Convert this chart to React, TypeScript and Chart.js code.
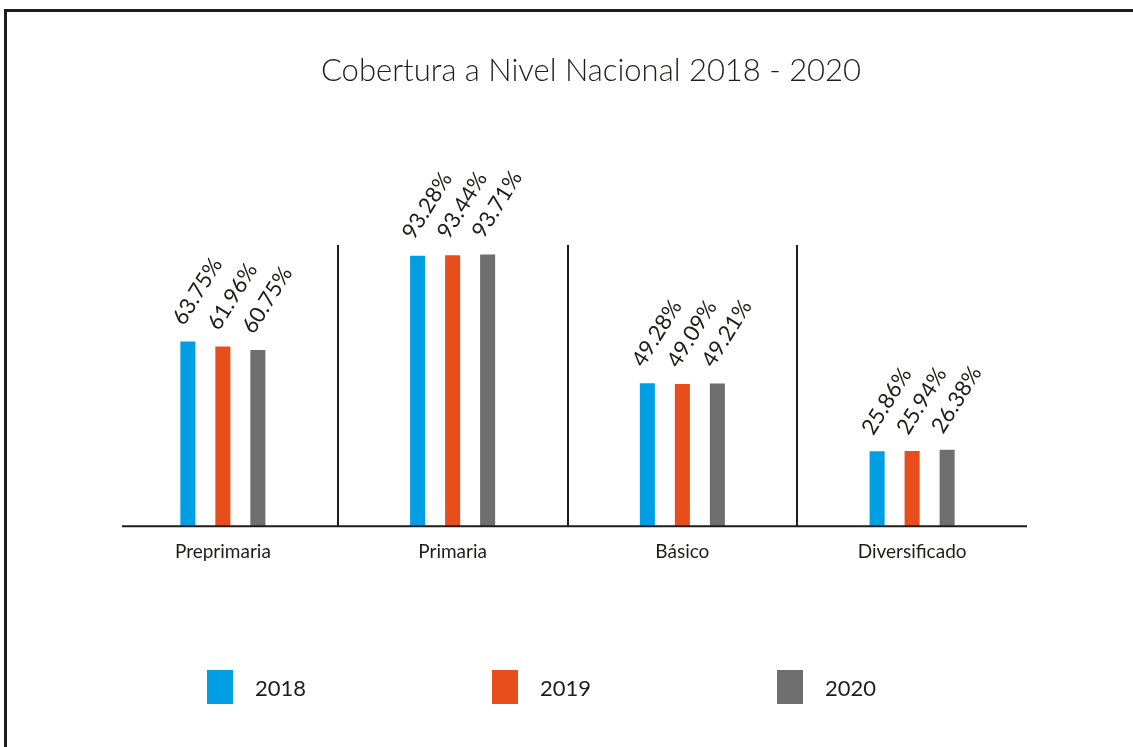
import React, { useEffect, useRef } from 'react';
import { Chart, registerables } from 'chart.js';

Chart.register(...registerables);

const categories = ['Preprimaria', 'Primaria', 'Básico', 'Diversificado'];
const seriesLabels = ['2018', '2019', '2020'];
const values2018 = [63.75, 93.28, 49.28, 25.86];
const values2019 = [61.96, 93.44, 49.09, 25.94];
const values2020 = [60.75, 93.71, 49.21, 26.38];
const seriesColors = ['#009FE3', '#E84E1B', '#706F6F'];
const titleText = 'Cobertura a Nivel Nacional 2018 - 2020';

const FONT = 'Lato, "Noto Sans", sans-serif';
const TEXT = '#1d1d1b';

const titlePlugin = {
  id: 'customTitle',
  afterDraw(chart: any) {
    const ctx = chart.ctx;
    ctx.save();
    ctx.font = `300 31px ${FONT}`;
    ctx.fillStyle = TEXT;
    ctx.textAlign = 'center';
    ctx.textBaseline = 'alphabetic';
    ctx.fillText(titleText, 591, 81);
    ctx.restore();
  },
};

const baselinePlugin = {
  id: 'baseline',
  afterDatasetsDraw(chart: any) {
    const { ctx, chartArea } = chart;
    ctx.save();
    ctx.strokeStyle = TEXT;
    ctx.lineWidth = 2;
    ctx.beginPath();
    ctx.moveTo(chartArea.left + 14, chartArea.bottom);
    ctx.lineTo(chartArea.right, chartArea.bottom);
    ctx.stroke();
    ctx.restore();
  },
};

const valueLabelPlugin = {
  id: 'valueLabels',
  afterDatasetsDraw(chart: any) {
    const ctx = chart.ctx;
    chart.data.datasets.forEach((ds: any, i: number) => {
      const meta = chart.getDatasetMeta(i);
      meta.data.forEach((bar: any, j: number) => {
        const v = ds.data[j];
        ctx.save();
        ctx.translate(bar.x - 4, bar.y - 15);
        ctx.rotate((-58 * Math.PI) / 180);
        ctx.font = `22px ${FONT}`;
        ctx.fillStyle = TEXT;
        ctx.textAlign = 'left';
        ctx.textBaseline = 'alphabetic';
        ctx.fillText(v.toFixed(2) + '%', 0, 0);
        ctx.restore();
      });
    });
  },
};

const legendPlugin = {
  id: 'customLegend',
  afterDraw(chart: any) {
    const ctx = chart.ctx;
    const left = 207;
    const step = 285;
    const top = 670;
    chart.data.datasets.forEach((ds: any, i: number) => {
      const x = left + i * step;
      ctx.save();
      ctx.fillStyle = ds.backgroundColor;
      ctx.fillRect(x, top, 26, 34);
      ctx.font = `22px ${FONT}`;
      ctx.fillStyle = TEXT;
      ctx.textAlign = 'left';
      ctx.textBaseline = 'alphabetic';
      ctx.fillText(ds.label, x + 48, top + 26);
      ctx.restore();
    });
  },
};

export default function App() {
  const ref = useRef<HTMLCanvasElement>(null);

  useEffect(() => {
    if (!ref.current) return;
    const datasets = [values2018, values2019, values2020].map((vals, i) => ({
      label: seriesLabels[i],
      data: vals,
      backgroundColor: seriesColors[i],
      borderWidth: 0,
      categoryPercentage: 0.457,
      barPercentage: 0.43,
    }));
    const chart = new Chart(ref.current, {
      type: 'bar',
      data: { labels: categories, datasets },
      options: {
        animation: false,
        responsive: false,
        devicePixelRatio: 1,
        layout: { padding: { left: 108, right: 106, top: 245, bottom: 170 } },
        plugins: {
          legend: { display: false },
          tooltip: { enabled: false },
          title: { display: false },
        },
        scales: {
          x: {
            offset: true,
            grid: {
              offset: true,
              drawTicks: false,
              lineWidth: 2,
              color: (c: any) => (c.index >= 1 && c.index <= 3 ? TEXT : 'rgba(0,0,0,0)'),
            },
            border: { display: false },
            ticks: { color: TEXT, padding: 14, font: { family: FONT, size: 19 } },
          },
          y: {
            display: false,
            min: 0,
            max: 97,
          },
        },
      },
      plugins: [baselinePlugin, valueLabelPlugin, legendPlugin, titlePlugin],
    });
    return () => chart.destroy();
  }, []);

  return (
    <div style={{ position: 'fixed', left: 0, top: 0, width: 1133, height: 747, overflow: 'hidden', background: '#fff' }}>
      <canvas ref={ref} width={1133} height={747} style={{ position: 'absolute', left: 0, top: 0 }} />
      <div
        style={{
          position: 'absolute',
          left: 4,
          top: 9,
          width: 1300,
          height: 900,
          borderLeft: '3px solid #1d1d1b',
          borderTop: '3px solid #1d1d1b',
          pointerEvents: 'none',
        }}
      />
    </div>
  );
}
